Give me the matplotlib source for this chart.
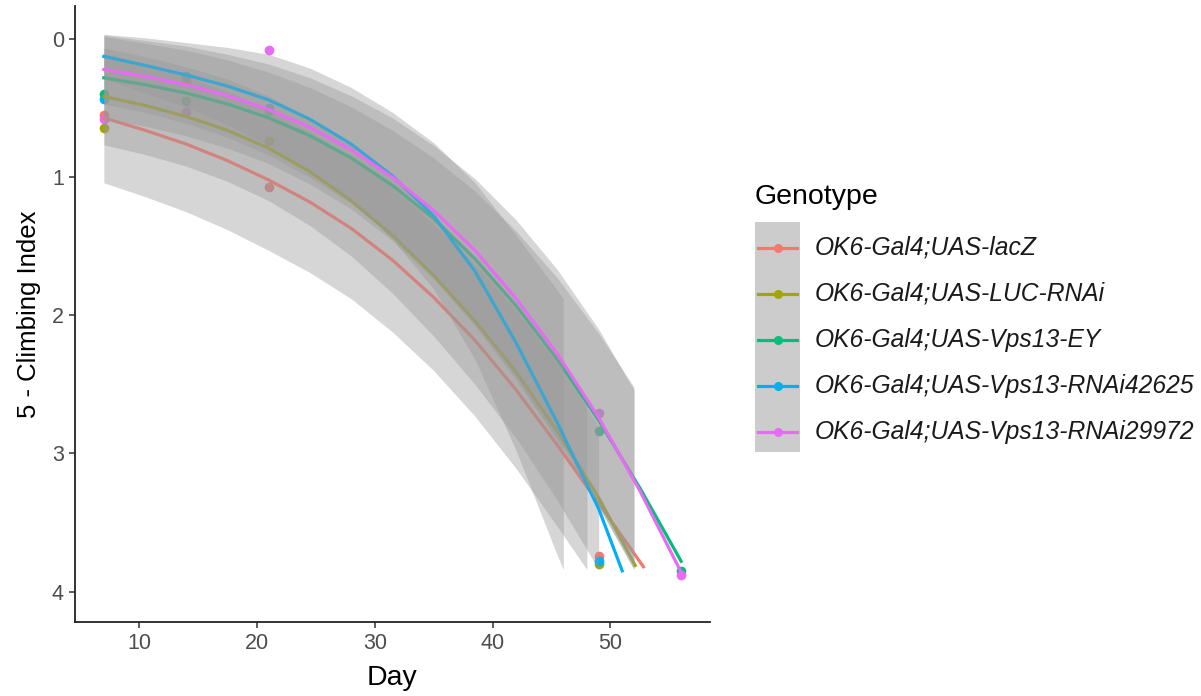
import numpy as np
import matplotlib
matplotlib.use('Agg')
import matplotlib.pyplot as plt
from matplotlib.patches import Rectangle
from matplotlib.lines import Line2D

plt.rcParams['font.family'] = ['Liberation Sans', 'DejaVu Sans']

genotypes = ['OK6-Gal4;UAS-lacZ', 'OK6-Gal4;UAS-LUC-RNAi', 'OK6-Gal4;UAS-Vps13-EY',
             'OK6-Gal4;UAS-Vps13-RNAi42625', 'OK6-Gal4;UAS-Vps13-RNAi29972']
colors = ['#F8766D', '#A3A500', '#00BF7D', '#00B0F6', '#E76BF3']

# observed means (5 - climbing index) per day
obs_days = [7, 14, 21, 49, 56]
obs_lacz = [0.55, 0.53, 1.07, 3.74, np.nan]
obs_luc = [0.64, 0.30, 0.74, 3.80, np.nan]
obs_ey = [0.40, 0.45, 0.52, 2.84, 3.85]
obs_r42625 = [0.43, 0.27, 0.50, 3.78, np.nan]
obs_r29972 = [0.58, 0.53, 0.08, 2.71, 3.88]

# fitted trend per genotype, sampled every half week
grid = [7, 10.5, 14, 17.5, 21, 24.5, 28, 31.5, 35, 38.5, 42, 45.5, 49, 52.5, 56]
fit_days_lacz = grid[:13] + [52.8]
fit_lacz = [0.57, 0.66, 0.76, 0.88, 1.02, 1.18, 1.37, 1.60, 1.87, 2.18, 2.54, 2.94, 3.36, 3.82]
fit_days_luc = grid[:13] + [52.1]
fit_luc = [0.415, 0.48, 0.56, 0.66, 0.79, 0.96, 1.17, 1.42, 1.71, 2.04, 2.41, 2.84, 3.32, 3.81]
fit_days_ey = grid
fit_ey = [0.28, 0.33, 0.39, 0.47, 0.57, 0.70, 0.86, 1.06, 1.30, 1.59, 1.93, 2.32, 2.76, 3.25, 3.78]
fit_days_r42625 = grid[:13] + [51]
fit_r42625 = [0.125, 0.19, 0.26, 0.34, 0.44, 0.58, 0.76, 0.99, 1.28, 1.68, 2.20, 2.78, 3.40, 3.85]
fit_days_r29972 = grid
fit_r29972 = [0.22, 0.27, 0.33, 0.41, 0.51, 0.64, 0.80, 1.00, 1.24, 1.53, 1.88, 2.28, 2.74, 3.27, 3.86]

# confidence band per genotype, cut where it leaves the scale
band_days_lacz = grid[:12] + [48]
band_lo_lacz = [0.10, 0.18, 0.27, 0.38, 0.51, 0.67, 0.86, 1.08, 1.34, 1.63, 1.97, 2.35, 2.64]
band_hi_lacz = [1.04, 1.14, 1.25, 1.38, 1.53, 1.69, 1.88, 2.12, 2.40, 2.73, 3.11, 3.53, 3.84]
band_days_luc = grid[:13]
band_lo_luc = [0.065, 0.125, 0.20, 0.29, 0.41, 0.57, 0.77, 1.00, 1.27, 1.58, 1.93, 2.34, 2.80]
band_hi_luc = [0.765, 0.835, 0.92, 1.03, 1.17, 1.35, 1.57, 1.84, 2.15, 2.50, 2.89, 3.34, 3.84]
band_days_ey = grid[:13] + [52]
band_lo_ey = [-0.02, 0.03, 0.08, 0.15, 0.24, 0.35, 0.49, 0.66, 0.86, 1.10, 1.39, 1.73, 2.13, 2.52]
band_hi_ey = [0.58, 0.63, 0.70, 0.79, 0.90, 1.05, 1.23, 1.46, 1.74, 2.08, 2.47, 2.91, 3.39, 3.84]
band_days_r42625 = grid[:12] + [46]
band_lo_r42625 = [-0.035, -0.01, 0.025, 0.06, 0.11, 0.21, 0.35, 0.53, 0.75, 1.04, 1.42, 1.82, 1.88]
band_hi_r42625 = [0.285, 0.39, 0.495, 0.62, 0.77, 0.95, 1.17, 1.45, 1.81, 2.32, 2.98, 3.74, 3.84]
band_days_r29972 = grid[:13] + [52]
band_lo_r29972 = [-0.03, 0.01, 0.05, 0.11, 0.18, 0.28, 0.41, 0.57, 0.77, 1.01, 1.31, 1.67, 2.10, 2.54]
band_hi_r29972 = [0.47, 0.53, 0.61, 0.71, 0.84, 1.00, 1.19, 1.43, 1.71, 2.05, 2.45, 2.89, 3.38, 3.84]

obs = [obs_lacz, obs_luc, obs_ey, obs_r42625, obs_r29972]
fits = [(fit_days_lacz, fit_lacz), (fit_days_luc, fit_luc), (fit_days_ey, fit_ey),
        (fit_days_r42625, fit_r42625), (fit_days_r29972, fit_r29972)]
bands = [(band_days_lacz, band_lo_lacz, band_hi_lacz),
         (band_days_luc, band_lo_luc, band_hi_luc),
         (band_days_ey, band_lo_ey, band_hi_ey),
         (band_days_r42625, band_lo_r42625, band_hi_r42625),
         (band_days_r29972, band_lo_r29972, band_hi_r29972)]

W, H = 1201, 696
fig = plt.figure(figsize=(W / 100, H / 100), dpi=100)
ax = fig.add_axes([75 / W, 1 - 622 / H, (710 - 75) / W, (622 - 6) / H])

# points go underneath, then each group's band followed by its line
for i in range(5):
    ax.plot(obs_days, obs[i], 'o', color=colors[i], markersize=7,
            markeredgewidth=0, zorder=1)
for i in range(5):
    bd, lo, hi = bands[i]
    ax.fill_between(bd, lo, hi, color='#999999', alpha=0.4, linewidth=0,
                    zorder=2 + 2 * i)
    fd, fy = fits[i]
    ax.plot(fd, fy, color=colors[i], linewidth=2.3, zorder=3 + 2 * i)

ax.set_xlim(4.55, 58.45)
ax.set_ylim(4.22, -0.24)
ax.set_xticks([10, 20, 30, 40, 50])
ax.set_yticks([0, 1, 2, 3, 4])
for side in ['top', 'right']:
    ax.spines[side].set_visible(False)
for side in ['left', 'bottom']:
    ax.spines[side].set_linewidth(1.3)
    ax.spines[side].set_color('#222222')
ax.tick_params(length=4, width=1.1, color='#333333', labelsize=15.5,
               labelcolor='#4D4D4D', pad=4)
ax.set_xlabel('Day', fontsize=20.5, labelpad=8)
ax.set_ylabel('5 - Climbing Index', fontsize=18.5, labelpad=8)

# legend drawn by hand so the key column gets one grey background
fig.text(755 / W, 1 - 197 / H, 'Genotype', fontsize=20.5, va='center', ha='left')
fig.patches.append(Rectangle((755 / W, 1 - 452 / H), 45 / W, 230 / H,
                             transform=fig.transFigure, facecolor='#CCCCCC',
                             edgecolor='none'))
for i in range(5):
    yk = 1 - (248 + 46 * i) / H
    fig.lines.append(Line2D([758 / W, 797 / W], [yk, yk], transform=fig.transFigure,
                            color=colors[i], linewidth=2.3))
    fig.lines.append(Line2D([777.5 / W], [yk], transform=fig.transFigure,
                            marker='o', markersize=6.5, markeredgewidth=0,
                            color=colors[i]))
    fig.text(815 / W, yk, genotypes[i], fontsize=17.7, style='italic',
             va='center', ha='left', color='#1A1A1A')

fig.savefig('out.png', dpi=100)
